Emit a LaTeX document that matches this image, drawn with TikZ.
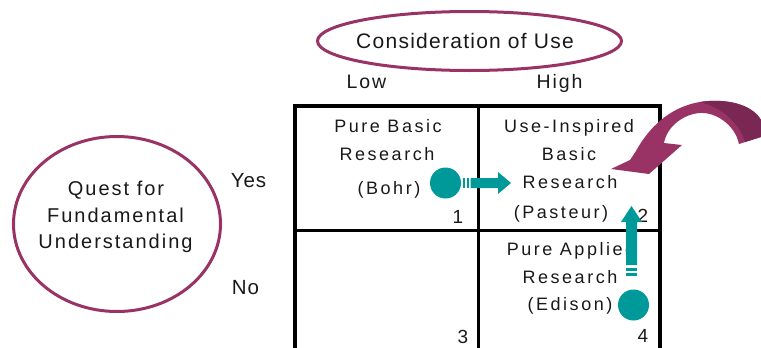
\documentclass[tikz,border=0pt]{standalone}
\usepackage{fontspec}
\setmainfont{Liberation Sans}
\usetikzlibrary{shapes.geometric}

\definecolor{plum}{RGB}{153,51,102}
\definecolor{plumdark}{RGB}{120,40,82}
\definecolor{tealmark}{RGB}{0,153,153}

% font size (px) and tracking (percent of the size)
\newcommand\tsize[2]{\fontsize{#1}{#1}\selectfont\addfontfeature{LetterSpace=#2}}

\tikzset{
  txt/.style={inner sep=0pt, anchor=base, text=black!90},
  headtxt/.style={txt, font=\tsize{21}{6}},
  axistxt/.style={txt, font=\tsize{19.5}{10}},
  sidetxt/.style={txt, font=\tsize{20.5}{4}},
  questtxt/.style={txt, font=\tsize{20}{10}},
  celltxt/.style={txt, font=\tsize{18}{14}},
  numtxt/.style={txt, font=\tsize{19}{0}},
  oval/.style={ellipse, draw=plum, line width=3pt, inner sep=0pt},
  dot/.style={circle, fill=tealmark, inner sep=0pt, minimum size=31pt},
  gridline/.style={line width=3pt, black},
}

\begin{document}
\begin{tikzpicture}[x=1pt, y=-1pt]
\useasboundingbox (0,0) rectangle (761,348);
\clip (0,0) rectangle (761,348);

% ---- axis headings ----
\node[oval, minimum width=304pt, minimum height=59pt] (useoval) at (469.5,41) {};
\node[headtxt] (usetxt) at (465,48.5) {Consideration of Use};
\node[axistxt] (low) at (366.5,88) {Low};
\node[axistxt] (high) at (559.5,88) {High};

\node[oval, minimum width=207pt, minimum height=175pt] (questoval) at (117,224) {};
\node[questtxt] (q1) at (116,195) {Quest for};
\node[questtxt] (q2) at (115.5,222) {Fundamental};
\node[questtxt] (q3) at (115.5,248.5) {Understanding};
\node[sidetxt] (yes) at (248.5,187.5) {Yes};
\node[sidetxt] (no) at (245.5,294) {No};

% ---- quadrant grid ----
\draw[line width=4pt] (295,106) rectangle (660,400);
\draw[gridline] (478.5,106) -- (478.5,400);
\draw[gridline] (295,230.5) -- (660,230.5);

% ---- quadrant 1 ----
\node[celltxt] (c1a) at (388,132) {Pure Basic};
\node[celltxt] (c1b) at (387,160) {Research};
\node[celltxt] (c1c) at (389,194) {(Bohr)};
\node[numtxt] (n1) at (458,223) {1};

% ---- quadrant 2 ----
\node[celltxt] (c2a) at (569,132) {Use-Inspired};
\node[celltxt] (c2b) at (569,160) {Basic};
\node[celltxt] (c2c) at (570,188) {Research};
\node[celltxt] (c2d) at (561,218) {(Pasteur)};
\node[numtxt] (n2) at (643,222) {2};

% ---- quadrants 3 and 4 ----
\node[numtxt] (n3) at (463,343) {3};
\node[celltxt] (c4a) at (571,255) {Pure Applied};
\node[celltxt] (c4b) at (570,283) {Research};
\node[celltxt] (c4c) at (570,310) {(Edison)};
\node[numtxt] (n4) at (643,342) {4};

% ---- Bohr -> Pasteur ----
\node[dot] (bohrdot) at (445.5,183) {};
\fill[tealmark] (462.5,178) rectangle (465,188);
\fill[tealmark] (466.5,178) rectangle (468.8,188);
\fill[tealmark] (470.5,178) -- (498,178) -- (498,172) -- (511,183)
  -- (498,194) -- (498,188) -- (470.5,188) -- cycle;

% ---- Edison -> Pasteur ----
\node[dot] (edisondot) at (633.5,305) {};
\fill[tealmark] (626,273.3) rectangle (637,276.3);
\fill[tealmark] (626,267.7) rectangle (637,270.7);
\fill[tealmark] (626,265) -- (626,222) -- (621,222) -- (631.5,206)
  -- (642,222) -- (637,222) -- (637,265) -- cycle;

% ---- curved arrow into quadrant 2 ----
\fill[plum] (611,169) -- (630,160) -- (636,151)
  .. controls (652,122) and (675,106) .. (700,102)
  .. controls (725,98) and (752,104) .. (761,120)
  -- (761,137) -- (739,144)
  .. controls (735,125) and (716,112) .. (700,113)
  .. controls (684,114) and (667,126) .. (664,143)
  -- (682,145) -- (649,174) -- cycle;
\fill[plumdark] (700,102)
  .. controls (725,98) and (752,104) .. (761,120)
  -- (761,137) -- (745,142)
  .. controls (739,122) and (722,108) .. (700,102) -- cycle;
\end{tikzpicture}
\end{document}
